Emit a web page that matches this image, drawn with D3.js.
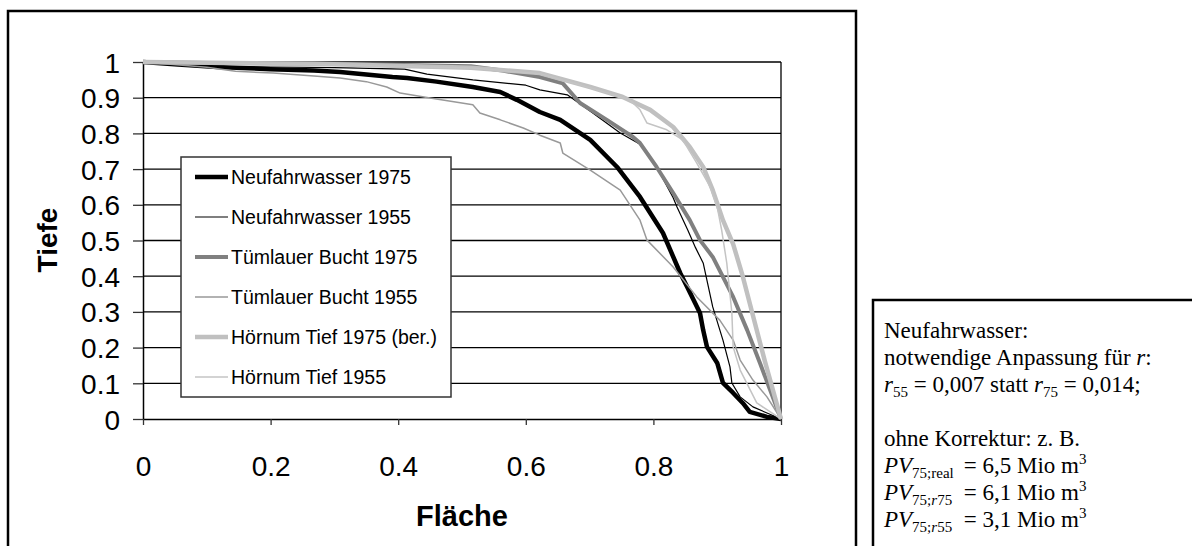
<!doctype html>
<html lang="de">
<head>
<meta charset="utf-8">
<title>Tiefe / Fläche</title>
<script src="https://d3js.org/d3.v7.min.js"></script>
<style>
  body { margin: 0; background: #fff; }
  svg { display: block; }
</style>
</head>
<body>
<div id="chart"></div>
<script>
// Fläche (x) / Tiefe (y) pairs
const neufahrwasser1975 = [[0,1],[0.055,0.993],[0.116,0.986],[0.2,0.98],[0.268,0.976],[0.309,0.972],[0.391,0.958],[0.414,0.955],[0.46,0.945],[0.517,0.93],[0.56,0.916],[0.586,0.894],[0.622,0.86],[0.654,0.838],[0.701,0.782],[0.743,0.706],[0.779,0.622],[0.815,0.521],[0.842,0.409],[0.853,0.37],[0.873,0.297],[0.878,0.249],[0.884,0.202],[0.9,0.157],[0.909,0.101],[0.925,0.073],[0.94,0.045],[0.951,0.02],[0.978,0.006],[1,0]];
const neufahrwasser1955 = [[0,1],[0.055,0.994],[0.116,0.988],[0.2,0.986],[0.3,0.984],[0.41,0.98],[0.445,0.966],[0.517,0.95],[0.6,0.935],[0.622,0.922],[0.665,0.908],[0.705,0.857],[0.748,0.801],[0.768,0.781],[0.779,0.77],[0.805,0.706],[0.831,0.62],[0.837,0.594],[0.854,0.529],[0.866,0.48],[0.878,0.437],[0.893,0.314],[0.909,0.221],[0.92,0.146],[0.923,0.101],[0.936,0.062],[0.956,0.034],[1,0]];
const tuemlauer1975 = [[0,1],[0.1,0.997],[0.3,0.995],[0.45,0.99],[0.514,0.988],[0.563,0.976],[0.622,0.958],[0.658,0.94],[0.685,0.885],[0.727,0.838],[0.768,0.79],[0.779,0.773],[0.805,0.706],[0.831,0.633],[0.857,0.557],[0.873,0.501],[0.893,0.454],[0.925,0.342],[0.947,0.249],[0.967,0.157],[0.983,0.081],[1,0]];
const tuemlauer1955 = [[0,1],[0.1,0.985],[0.145,0.974],[0.204,0.969],[0.268,0.961],[0.309,0.955],[0.35,0.945],[0.382,0.93],[0.403,0.913],[0.45,0.899],[0.517,0.88],[0.528,0.857],[0.56,0.838],[0.596,0.815],[0.622,0.795],[0.654,0.773],[0.658,0.745],[0.701,0.697],[0.748,0.641],[0.779,0.557],[0.79,0.501],[0.831,0.426],[0.868,0.342],[0.904,0.277],[0.925,0.221],[0.936,0.165],[0.956,0.109],[0.978,0.062],[1,0]];
const hoernum1975 = [[0,1],[0.268,0.995],[0.514,0.984],[0.622,0.969],[0.701,0.93],[0.752,0.902],[0.795,0.866],[0.831,0.818],[0.857,0.762],[0.878,0.706],[0.893,0.641],[0.909,0.557],[0.925,0.49],[0.94,0.4],[0.956,0.29],[0.975,0.16],[1,0]];
const hoernum1955 = [[0,1],[0.268,0.993],[0.514,0.983],[0.622,0.967],[0.701,0.928],[0.763,0.894],[0.779,0.866],[0.79,0.829],[0.821,0.81],[0.846,0.782],[0.868,0.717],[0.889,0.65],[0.9,0.594],[0.907,0.529],[0.915,0.437],[0.923,0.297],[0.925,0.202],[0.936,0.137],[0.962,0.045],[1,0]];

const seriesNames = ["Neufahrwasser 1975","Neufahrwasser 1955","Tümlauer Bucht 1975","Tümlauer Bucht 1955","Hörnum Tief 1975 (ber.)","Hörnum Tief 1955"];
const seriesData = [neufahrwasser1975, neufahrwasser1955, tuemlauer1975, tuemlauer1955, hoernum1975, hoernum1955];
const seriesColors = ["#000000","#000000","#808080","#999999","#c0c0c0","#c4c4c4"];
const seriesWidths = [4.5, 1.2, 4, 1.5, 4.5, 1.5];

const yTicks = [0,0.1,0.2,0.3,0.4,0.5,0.6,0.7,0.8,0.9,1];
const xTicks = [0,0.2,0.4,0.6,0.8,1];

const sans = "'Liberation Sans', Arial, sans-serif";
const serif = "'Liberation Serif', 'Times New Roman', serif";

const svg = d3.select("#chart").append("svg")
  .attr("width", 1192).attr("height", 546);

svg.append("rect").attr("width", 1192).attr("height", 546).attr("fill", "#fff");

// outer chart frame (bottom runs off the picture)
svg.append("rect")
  .attr("x", 8).attr("y", 11).attr("width", 848).attr("height", 560)
  .attr("fill", "none").attr("stroke", "#000").attr("stroke-width", 2.5);

const x = d3.scaleLinear().domain([0, 1]).range([143, 781]);
const y = d3.scaleLinear().domain([0, 1]).range([419, 62]);

// gridlines
svg.append("g").selectAll("line")
  .data(yTicks.slice(1))
  .join("line")
    .attr("x1", x(0)).attr("x2", x(1))
    .attr("y1", d => y(d)).attr("y2", d => y(d))
    .attr("stroke", "#000").attr("stroke-width", 1.3);

// right border of plot area
svg.append("line")
  .attr("x1", x(1)).attr("x2", x(1)).attr("y1", y(1)).attr("y2", y(0))
  .attr("stroke", "#000").attr("stroke-width", 1.3);

// axes
const yAxis = svg.append("g")
  .attr("transform", "translate(" + x(0) + ",0)")
  .call(d3.axisLeft(y).tickValues(yTicks).tickSize(10).tickSizeOuter(0).tickPadding(13).tickFormat(d3.format("~g")));
const xAxis = svg.append("g")
  .attr("transform", "translate(0," + y(0) + ")")
  .call(d3.axisBottom(x).tickValues(xTicks).tickSize(6).tickSizeOuter(0).tickFormat(d3.format("~g")));

[yAxis, xAxis].forEach(g => {
  g.select(".domain").attr("stroke", "#000").attr("stroke-width", 1.5);
  g.selectAll(".tick line").attr("stroke", "#333").attr("stroke-width", 1.3);
  g.selectAll("text").attr("font-family", sans).attr("font-size", 28).attr("fill", "#000");
});
xAxis.selectAll("text").attr("dy", null).attr("y", 57);
yAxis.selectAll("text").attr("dy", "0.36em");

// axis titles
svg.append("text")
  .attr("transform", "translate(57,240) rotate(-90)")
  .attr("text-anchor", "middle")
  .attr("font-family", sans).attr("font-size", 28).attr("font-weight", "bold")
  .text("Tiefe");
svg.append("text")
  .attr("x", 462).attr("y", 526)
  .attr("text-anchor", "middle")
  .attr("font-family", sans).attr("font-size", 29).attr("font-weight", "bold")
  .text("Fläche");

// curves
const line = d3.line().x(d => x(d[0])).y(d => y(d[1]));
svg.append("g").selectAll("path")
  .data(seriesData)
  .join("path")
    .attr("d", line)
    .attr("fill", "none")
    .attr("stroke", (d, i) => seriesColors[i])
    .attr("stroke-width", (d, i) => seriesWidths[i])
    .attr("stroke-linejoin", "round");

// legend
const legend = svg.append("g");
legend.append("rect")
  .attr("x", 181).attr("y", 157).attr("width", 270).attr("height", 240)
  .attr("fill", "#fff").attr("stroke", "#333").attr("stroke-width", 1.5);
const items = legend.selectAll("g.item")
  .data(seriesNames)
  .join("g").attr("class", "item")
  .attr("transform", (d, i) => "translate(0," + (177 + i * 40) + ")");
items.append("line")
  .attr("x1", 195).attr("x2", 228).attr("y1", 0).attr("y2", 0)
  .attr("stroke", (d, i) => seriesColors[i])
  .attr("stroke-width", (d, i) => seriesWidths[i]);
items.append("text")
  .attr("x", 231).attr("y", 7)
  .attr("font-family", sans).attr("font-size", 19.5)
  .text(d => d);

// note box on the right
svg.append("rect")
  .attr("x", 873).attr("y", 300).attr("width", 340).attr("height", 300)
  .attr("fill", "#fff").attr("stroke", "#000").attr("stroke-width", 2.5);

const note = svg.append("g").attr("font-family", serif).attr("font-size", 23).attr("fill", "#000");
const noteX = 884, noteLh = 27, noteTop = 338;

function addLine(row, parts, xPos) {
  const t = note.append("text").attr("x", xPos || noteX).attr("y", noteTop + row * noteLh);
  parts.forEach(p => {
    const s = t.append("tspan").text(p.t);
    if (p.i) s.attr("font-style", "italic");
    if (p.sub || p.sup) s.attr("font-size", 15);
    if (p.dy) s.attr("dy", p.dy);
  });
  return t;
}

addLine(0, [{t: "Neufahrwasser:"}]);
addLine(1, [{t: "notwendige Anpassung für "}, {t: "r", i: true}, {t: ":"}]);
addLine(2, [{t: "r", i: true}, {t: "55", sub: true, dy: 5}, {t: " = 0,007 statt ", dy: -5},
            {t: "r", i: true}, {t: "75", sub: true, dy: 5}, {t: " = 0,014;", dy: -5}]);
addLine(4, [{t: "ohne Korrektur: z. B."}]);
const pvLabels = [
  addLine(5, [{t: "PV", i: true}, {t: "75;real", sub: true, dy: 5}]),
  addLine(6, [{t: "PV", i: true}, {t: "75;", sub: true, dy: 5}, {t: "r", sub: true, i: true}, {t: "75", sub: true}]),
  addLine(7, [{t: "PV", i: true}, {t: "75;", sub: true, dy: 5}, {t: "r", sub: true, i: true}, {t: "55", sub: true}])
];
// values start after the widest PV label, like a tab stop
const eqX = noteX + d3.max(pvLabels, t => t.node().getComputedTextLength()) + 10;
addLine(5, [{t: "= 6,5 Mio m"}, {t: "3", sup: true, dy: -9}], eqX);
addLine(6, [{t: "= 6,1 Mio m"}, {t: "3", sup: true, dy: -9}], eqX);
addLine(7, [{t: "= 3,1 Mio m"}, {t: "3", sup: true, dy: -9}], eqX);
</script>
</body>
</html>
